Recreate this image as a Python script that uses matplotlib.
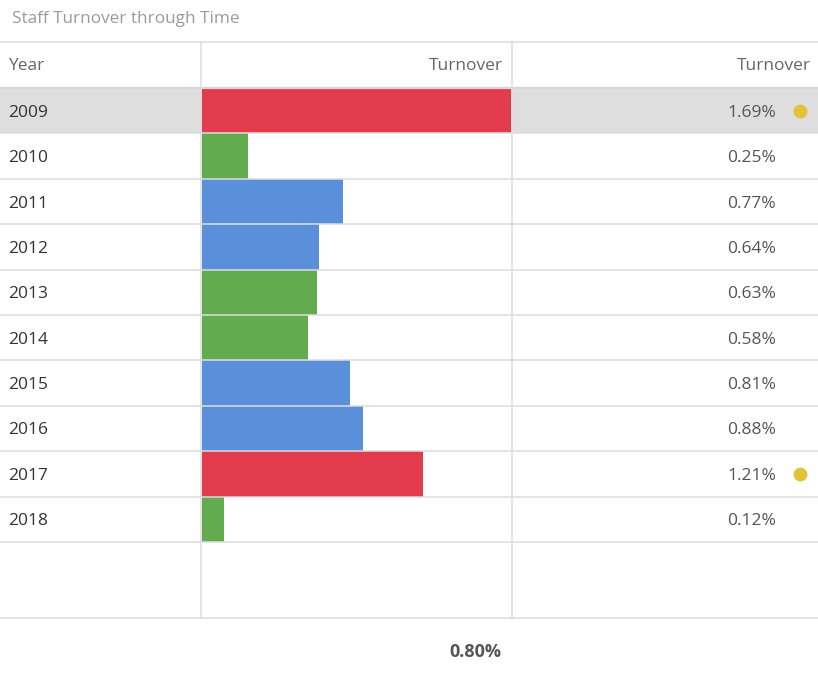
import matplotlib
matplotlib.use("Agg")
import matplotlib.pyplot as plt
from matplotlib.patches import Rectangle

years = ["2009", "2010", "2011", "2012", "2013", "2014", "2015", "2016", "2017", "2018"]
turnover = [1.69, 0.25, 0.77, 0.64, 0.63, 0.58, 0.81, 0.88, 1.21, 0.12]
status = ["high", "low", "mid", "mid", "low", "low", "mid", "mid", "high", "low"]
flagged = [True, False, False, False, False, False, False, False, True, False]
average = 0.80
title = "Staff Turnover through Time"
col_headers = ["Year", "Turnover", "Turnover"]

status_colors = {"high": "#E23B4C", "mid": "#5A8FDA", "low": "#63AB4F"}
dot_color = "#E2C23A"
grid_color = "#DCDCDC"

plt.rcParams['font.family'] = ['Open Sans', 'DejaVu Sans']

W, H = 818, 678
fig = plt.figure(figsize=(W / 100, H / 100), dpi=100)

# layout in pixels
header_top = 42
rows_top = 88
row_h = 45.4
n = len(years)
rows_bottom = rows_top + row_h * n
body_bottom = 618
col1_x = 201
col2_x = 512

def fr(x0, y0, x1, y1):
    return [x0 / W, 1 - y1 / H, (x1 - x0) / W, (y1 - y0) / H]

# background axis (highlight)
bg = fig.add_axes([0, 0, 1, 1])
bg.set_xlim(0, W); bg.set_ylim(H, 0); bg.axis("off")
bg.add_patch(Rectangle((0, rows_top), W, row_h, color="#DEDEDE", lw=0))

# bar axis
axb = fig.add_axes(fr(col1_x + 1, rows_top, col2_x - 1, rows_bottom))
axb.patch.set_alpha(0)
axb.barh(range(n), turnover, height=1.0,
         color=[status_colors[s] for s in status], linewidth=0)
axb.set_xlim(0, max(turnover))
axb.set_ylim(n - 0.5, -0.5)
axb.axis("off")

# overlay axis
ov = fig.add_axes([0, 0, 1, 1])
ov.patch.set_alpha(0)
ov.set_xlim(0, W); ov.set_ylim(H, 0); ov.axis("off")

lw = 1.1
ov.plot([0, W], [header_top, header_top], color=grid_color, lw=lw)
ov.plot([0, W], [rows_top, rows_top], color="#D6D6D6", lw=1.6)
for i in range(1, n + 1):
    y = rows_top + row_h * i
    ov.plot([0, W], [y, y], color=grid_color, lw=lw)
ov.plot([0, W], [body_bottom, body_bottom], color=grid_color, lw=lw)
for x in (col1_x, col2_x):
    ov.plot([x, x], [header_top, body_bottom], color=grid_color, lw=lw)

fs = 12.5
ov.text(12, 19, title, fontsize=12.3, color="#9A9A9A", va="center", ha="left")
hy = (header_top + rows_top) / 2 + 1
ov.text(8, hy, col_headers[0], fontsize=fs, color="#666666", va="center", ha="left")
ov.text(503, hy, col_headers[1], fontsize=fs, color="#666666", va="center", ha="right")
ov.text(811, hy, col_headers[2], fontsize=fs, color="#666666", va="center", ha="right")

for i, (yr, v) in enumerate(zip(years, turnover)):
    cy = rows_top + row_h * (i + 0.5) + 2
    ov.text(8, cy, yr, fontsize=fs, color="#333333", va="center", ha="left")
    ov.text(776, cy, f"{v:.2f}%", fontsize=fs, color="#555555", va="center", ha="right")
    if flagged[i]:
        ov.plot([800], [cy - 2], "o", color=dot_color, markersize=10, mec="none")

ov.text(475, 652, f"{average:.2f}%", fontsize=13, color="#555555", fontweight="bold",
        va="center", ha="center")

fig.savefig("out.png", dpi=100)
